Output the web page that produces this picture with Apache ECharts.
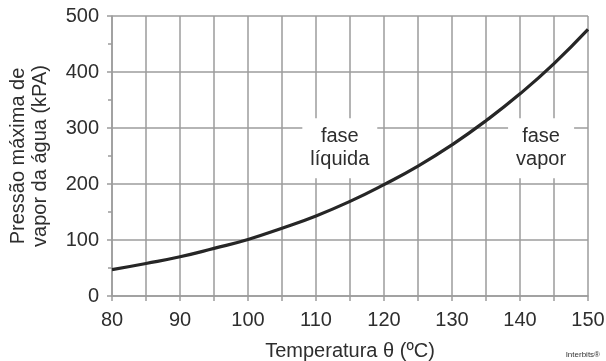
<!DOCTYPE html>
<html>
<head>
<meta charset="utf-8">
<script src="https://cdn.jsdelivr.net/npm/echarts@6/dist/echarts.min.js"></script>
<style>
  html, body { margin: 0; padding: 0; background: #fff; }
  #chart { width: 606px; height: 361px; }
</style>
</head>
<body>
<div id="chart"></div>
<script>
// temperatura (ºC) e pressão máxima de vapor (kPa)
var temps = [80, 85, 90, 95, 100, 105, 110, 115, 120, 125, 130, 135, 140, 145, 150];
var pressures = [47, 58, 70, 85, 101, 121, 143, 169, 199, 232, 270, 313, 361, 415, 476];

// rótulos das fases
var phaseLabels = ['fase\nlíquida', 'fase\nvapor'];
var phaseX = [113.5, 143.1];
var phaseY = [264, 264];

var chartDom = document.getElementById('chart');
var myChart = echarts.init(chartDom);
var font = 'Liberation Sans, Arial, sans-serif';
var gridColor = '#9c9c9c';
var textColor = '#2e2e2e';

var option = {
    animation: false,
    textStyle: { fontFamily: font },
    grid: { left: 112, right: 18, top: 16, bottom: 65, containLabel: false, outerBoundsMode: 'none' },
    xAxis: {
        type: 'value',
        min: 80,
        max: 150,
        interval: 10,
        name: 'Temperatura θ (ºC)',
        nameLocation: 'middle',
        nameGap: 45,
        nameTextStyle: { fontSize: 20, color: textColor, fontFamily: font },
        axisLine: { show: true, lineStyle: { color: gridColor, width: 1.5 } },
        axisTick: { show: true, length: 5, lineStyle: { color: gridColor, width: 1.5 } },
        minorTick: { show: true, splitNumber: 2, length: 5, lineStyle: { color: gridColor, width: 1.5 } },
        axisLabel: { fontSize: 20, color: textColor, margin: 14, fontFamily: font },
        splitLine: { show: true, lineStyle: { color: gridColor, width: 1.5 } },
        minorSplitLine: { show: true, lineStyle: { color: gridColor, width: 1.5 } }
    },
    yAxis: {
        type: 'value',
        min: 0,
        max: 500,
        interval: 100,
        name: 'Pressão máxima de\nvapor da água (kPA)',
        nameLocation: 'middle',
        nameGap: 61,
        nameRotate: 90,
        nameTextStyle: { fontSize: 20, color: textColor, lineHeight: 22, fontFamily: font },
        axisLine: { show: true, lineStyle: { color: gridColor, width: 1.5 } },
        axisTick: { show: true, length: 5, lineStyle: { color: gridColor, width: 1.5 } },
        minorTick: { show: true, splitNumber: 2, length: 4, lineStyle: { color: gridColor, width: 1.5 } },
        axisLabel: { fontSize: 20, color: textColor, margin: 13, fontFamily: font },
        splitLine: { show: true, lineStyle: { color: gridColor, width: 1.5 } }
    },
    graphic: [
        {
            type: 'text',
            right: 6,
            bottom: 2,
            style: { text: 'Interbits®', fontSize: 8, fill: '#333', fontFamily: font }
        }
    ],
    series: [
        {
            type: 'line',
            data: temps.map(function (t, i) { return [t, pressures[i]]; }),
            smooth: true,
            showSymbol: false,
            lineStyle: { color: '#262626', width: 3.2 },
            z: 3
        },
        {
            type: 'scatter',
            symbolSize: 0,
            z: 4,
            itemStyle: { opacity: 1 },
            data: phaseLabels.map(function (l, i) { return { value: [phaseX[i], phaseY[i]], name: l }; }),
            label: {
                show: true,
                position: 'inside',
                formatter: '{b}',
                fontSize: 20,
                lineHeight: 23,
                color: textColor,
                opacity: 1,
                textBorderWidth: 0,
                fontFamily: font,
                backgroundColor: '#fff',
                padding: [7, 8, 7, 8]
            },
            emphasis: { disabled: true }
        }
    ]
};

option && myChart.setOption(option);
</script>
</body>
</html>
